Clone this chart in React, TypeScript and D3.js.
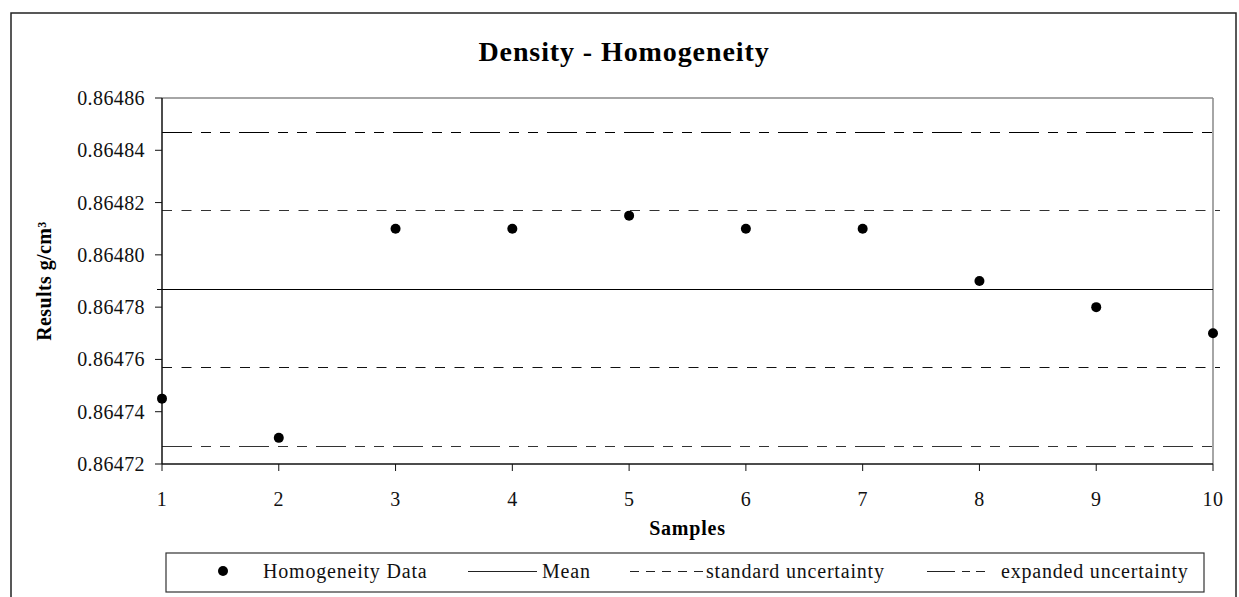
import React from "react";
import * as d3 from "d3";

const samples = [1, 2, 3, 4, 5, 6, 7, 8, 9, 10];
const results = [0.864745, 0.86473, 0.86481, 0.86481, 0.864815, 0.86481, 0.86481, 0.86479, 0.86478, 0.86477];
const meanValue = 0.864787;
const standardUncertainty = 0.00003;
const expandedUncertainty = 0.00006;
const yTicks = [0.86472, 0.86474, 0.86476, 0.86478, 0.8648, 0.86482, 0.86484, 0.86486];
const legendLabels = ["Homogeneity Data", "Mean", "standard uncertainty", "expanded uncertainty"];

const W = 1239;
const H = 597;
const plot = { left: 162, right: 1213, top: 98, bottom: 464 };
const FONT = "'Liberation Serif', 'Times New Roman', serif";
const STD_DASH = "10,9.5";
const EXP_DASH = "30,9,10,9,10,9";

export default function App() {
  const x = d3.scaleLinear().domain([1, 10]).range([plot.left, plot.right]);
  const y = d3.scaleLinear().domain([0.86472, 0.86486]).range([plot.bottom, plot.top]);
  const fmt = d3.format(".5f");

  const hLines = [
    { v: meanValue + expandedUncertainty, dash: EXP_DASH, x0: plot.left, x1: plot.right + 7, c: "#000" },
    { v: meanValue + standardUncertainty, dash: STD_DASH, x0: plot.left, x1: plot.right + 7, c: "#333" },
    { v: meanValue, dash: undefined, x0: plot.left - 5, x1: plot.right, c: "#000" },
    { v: meanValue - standardUncertainty, dash: STD_DASH, x0: plot.left, x1: plot.right + 7, c: "#111" },
    { v: meanValue - expandedUncertainty, dash: EXP_DASH, x0: plot.left, x1: plot.right + 7, c: "#333" },
  ];

  const legendItems = [
    { x: 189, kind: "dot" },
    { x: 468, kind: "mean" },
    { x: 630, kind: "std" },
    { x: 927, kind: "exp" },
  ];
  const legendY = 571;
  const sampleW = 69;

  return (
    <svg width={W} height={H} style={{ position: "absolute", left: 0, top: 0, fontFamily: FONT }}>
      <rect x={0} y={0} width={W} height={H} fill="#fff" />
      <rect x={11} y={13} width={1225} height={600} fill="#fff" stroke="#222" strokeWidth={1.5} />

      <text x={624} y={61} textAnchor="middle" fontSize={28} fontWeight="bold" letterSpacing={0.9} fill="#000">
        Density - Homogeneity
      </text>

      {/* plot frame top/right */}
      <line x1={plot.left} x2={plot.right} y1={plot.top} y2={plot.top} stroke="#888" strokeWidth={1.5} />
      <line x1={plot.right} x2={plot.right} y1={plot.top} y2={plot.bottom} stroke="#888" strokeWidth={1.5} />

      {hLines.map((l, i) => (
        <line
          key={i}
          x1={l.x0}
          x2={l.x1}
          y1={Math.round(y(l.v)) + 0.5}
          y2={Math.round(y(l.v)) + 0.5}
          stroke={l.c}
          strokeWidth={1}
          strokeDasharray={l.dash}
        />
      ))}

      {/* axes */}
      <line x1={plot.left} x2={plot.left} y1={plot.top} y2={plot.bottom} stroke="#111" strokeWidth={1.5} />
      <line x1={plot.left} x2={plot.right} y1={plot.bottom} y2={plot.bottom} stroke="#111" strokeWidth={1.5} />

      {yTicks.map((t) => (
        <g key={t}>
          <line x1={plot.left - 7} x2={plot.left} y1={y(t)} y2={y(t)} stroke="#111" strokeWidth={1} />
          <text x={plot.left - 17} y={y(t)} dy="0.35em" textAnchor="end" fontSize={20} letterSpacing={0.4} fill="#111">
            {fmt(t)}
          </text>
        </g>
      ))}

      {samples.map((s) => (
        <g key={s}>
          <line x1={x(s)} x2={x(s)} y1={plot.bottom} y2={plot.bottom + 7} stroke="#111" strokeWidth={1} />
          <text x={x(s)} y={plot.bottom + 42} textAnchor="middle" fontSize={20} letterSpacing={0.4} fill="#111">
            {s}
          </text>
        </g>
      ))}

      <text x={(plot.left + plot.right) / 2} y={plot.bottom + 71} textAnchor="middle" fontSize={20} fontWeight="bold" letterSpacing={0.8} fill="#000">
        Samples
      </text>

      <text
        transform={`translate(51, ${(plot.top + plot.bottom) / 2}) rotate(-90)`}
        textAnchor="middle"
        fontSize={20}
        fontWeight="bold"
        letterSpacing={0.4}
        fill="#000"
      >
        Results g/cm³
      </text>

      {samples.map((s, i) => (
        <circle key={s} cx={x(s)} cy={y(results[i])} r={5} fill="#000" />
      ))}

      {/* legend */}
      <rect x={166} y={553} width={1038} height={39} fill="#fff" stroke="#333" strokeWidth={1.2} />
      {legendItems.map((it, i) => (
        <g key={i}>
          {it.kind === "dot" && <circle cx={it.x + 34} cy={legendY} r={5} fill="#000" />}
          {it.kind === "mean" && (
            <line x1={it.x} x2={it.x + sampleW} y1={legendY + 0.5} y2={legendY + 0.5} stroke="#222" strokeWidth={1} />
          )}
          {it.kind === "std" && (
            <line x1={it.x} x2={it.x + 74} y1={legendY + 0.5} y2={legendY + 0.5} stroke="#222" strokeWidth={1} strokeDasharray="9,7" />
          )}
          {it.kind === "exp" && (
            <line x1={it.x} x2={it.x + 66} y1={legendY + 0.5} y2={legendY + 0.5} stroke="#222" strokeWidth={1} strokeDasharray="28,7,8,6,9,10" />
          )}
          <text
            x={it.kind === "dot" ? it.x + 74 : it.kind === "std" ? it.x + 76 : it.x + sampleW + 5}
            y={legendY}
            dy="0.35em"
            fontSize={20}
            letterSpacing={0.8}
            fill="#111"
          >
            {legendLabels[i]}
          </text>
        </g>
      ))}
    </svg>
  );
}
